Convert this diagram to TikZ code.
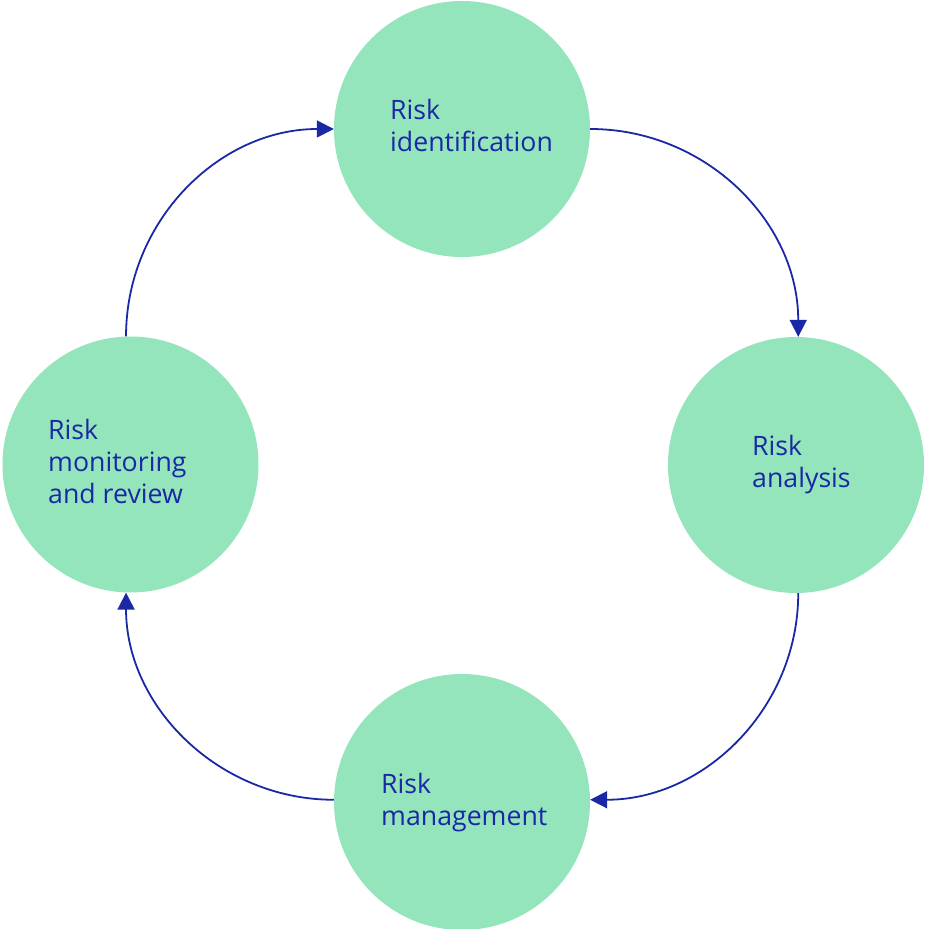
\documentclass[tikz,border=0pt]{standalone}
\usepackage{fontspec}
\setmainfont{Open Sans}
\usetikzlibrary{arrows.meta}
\definecolor{stagefill}{HTML}{94E5BB}
\definecolor{inkblue}{HTML}{1A28A6}
\begin{document}
\begin{tikzpicture}[x=1pt,y=1pt,
  stage/.style={circle,fill=stagefill,minimum size=256pt,inner sep=0pt},
  label/.style={anchor=base west,align=left,inner sep=0pt,text=inkblue,
    font=\fontsize{26.7}{32}\selectfont},
  flow/.style={draw=inkblue,line width=1.8pt,
    -{Triangle[length=17pt,width=17pt]}}]
\useasboundingbox (0,0) rectangle (924,929);
% the four stages of the cycle
\node[stage] (ident) at (462,800) {};
\node[stage] (anal)  at (796,464) {};
\node[stage] (mgmt)  at (462,127) {};
\node[stage] (mon)   at (130.5,464.5) {};
% stage captions (anchored at the baseline of the last line)
\node[label] (identtxt) at (390,777) {Risk\\identification};
\node[label] (analtxt)  at (752,441) {Risk\\analysis};
\node[label] (mgmttxt)  at (381,103) {Risk\\management};
\node[label] (montxt)   at (48,425)  {Risk\\monitoring\\and review};
% clockwise flow between the stages
\draw[flow] (ident.east) to[out=0,in=90] (anal.89);
\draw[flow] (anal.-89) to[out=-90,in=0] (mgmt.1);
\draw[flow] (mgmt.179) to[out=180,in=-90] (mon.-92);
\draw[flow] (mon.92) to[out=90,in=180] (ident.west);
\end{tikzpicture}
\end{document}
